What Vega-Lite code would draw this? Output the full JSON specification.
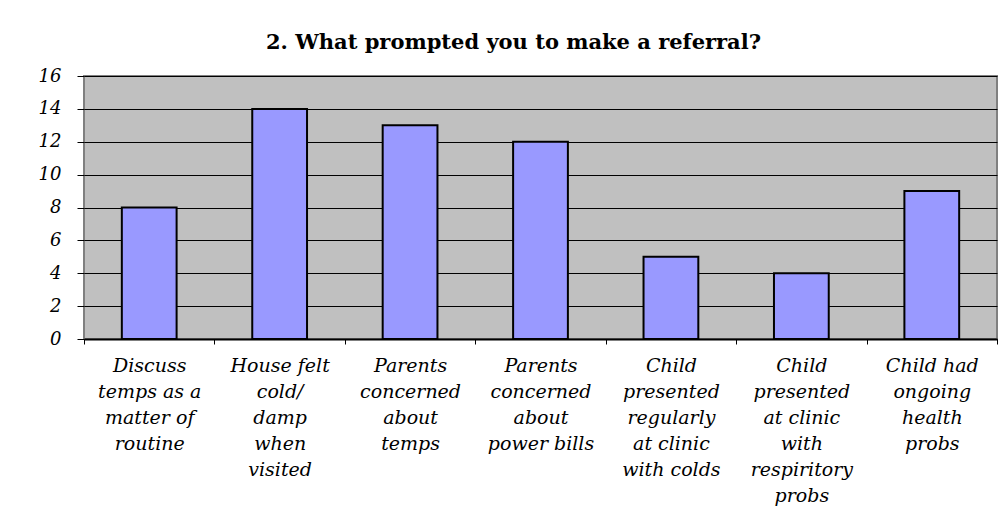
{
  "$schema": "https://vega.github.io/schema/vega-lite/v6.json",
  "width": 913,
  "height": 263,
  "autosize": "none",
  "padding": {"left": 84, "top": 76, "right": 10, "bottom": 167},
  "background": "white",
  "title": {
    "text": "2. What prompted you to make a referral?",
    "font": "DejaVu Serif",
    "fontSize": 21,
    "fontWeight": "bold",
    "color": "black",
    "anchor": "middle",
    "offset": 14,
    "dx": -27
  },
  "data": {
    "values": [
      {"reason": "Discuss temps as a matter of routine", "count": 8},
      {"reason": "House felt cold/ damp when visited", "count": 14},
      {"reason": "Parents concerned about temps", "count": 13},
      {"reason": "Parents concerned about power bills", "count": 12},
      {"reason": "Child presented regularly at clinic with colds", "count": 5},
      {"reason": "Child presented at clinic with respiritory probs", "count": 4},
      {"reason": "Child had ongoing health probs", "count": 9}
    ]
  },
  "mark": {"type": "bar", "color": "#9999FF", "stroke": "black", "strokeWidth": 2, "width": {"band": 0.42}},
  "encoding": {
    "x": {
      "field": "reason",
      "type": "nominal",
      "sort": null,
      "title": null,
      "scale": {"paddingInner": 0, "paddingOuter": 0},
      "axis": {
        "labelAngle": 0,
        "labelFont": "DejaVu Serif",
        "labelFontStyle": "italic",
        "labelFontSize": 19,
        "labelColor": "black",
        "labelLineHeight": 26,
        "labelPadding": 12,
        "labelBaseline": "top",
        "tickBand": "extent",
        "tickColor": "black",
        "tickSize": 5,
        "domainColor": "black",
        "domainWidth": 2,
        "labelExpr": "({'Discuss temps as a matter of routine': ['Discuss', 'temps as a', 'matter of', 'routine'], 'House felt cold/ damp when visited': ['House felt', 'cold/', 'damp', 'when', 'visited'], 'Parents concerned about temps': ['Parents', 'concerned', 'about', 'temps'], 'Parents concerned about power bills': ['Parents', 'concerned', 'about', 'power bills'], 'Child presented regularly at clinic with colds': ['Child', 'presented', 'regularly', 'at clinic', 'with colds'], 'Child presented at clinic with respiritory probs': ['Child', 'presented', 'at clinic', 'with', 'respiritory', 'probs'], 'Child had ongoing health probs': ['Child had', 'ongoing', 'health', 'probs']})[datum.label]"
      }
    },
    "y": {
      "field": "count",
      "type": "quantitative",
      "title": null,
      "scale": {"domain": [0, 16]},
      "axis": {
        "values": [0, 2, 4, 6, 8, 10, 12, 14, 16],
        "labelFont": "DejaVu Serif",
        "labelFontStyle": "italic",
        "labelFontSize": 18,
        "labelColor": "black",
        "labelPadding": 16,
        "tickColor": "black",
        "tickSize": 7,
        "domain": false,
        "grid": true,
        "gridColor": "black",
        "gridWidth": 1
      }
    }
  },
  "config": {
    "view": {"fill": "#C0C0C0", "stroke": "#808080", "strokeWidth": 2}
  }
}
